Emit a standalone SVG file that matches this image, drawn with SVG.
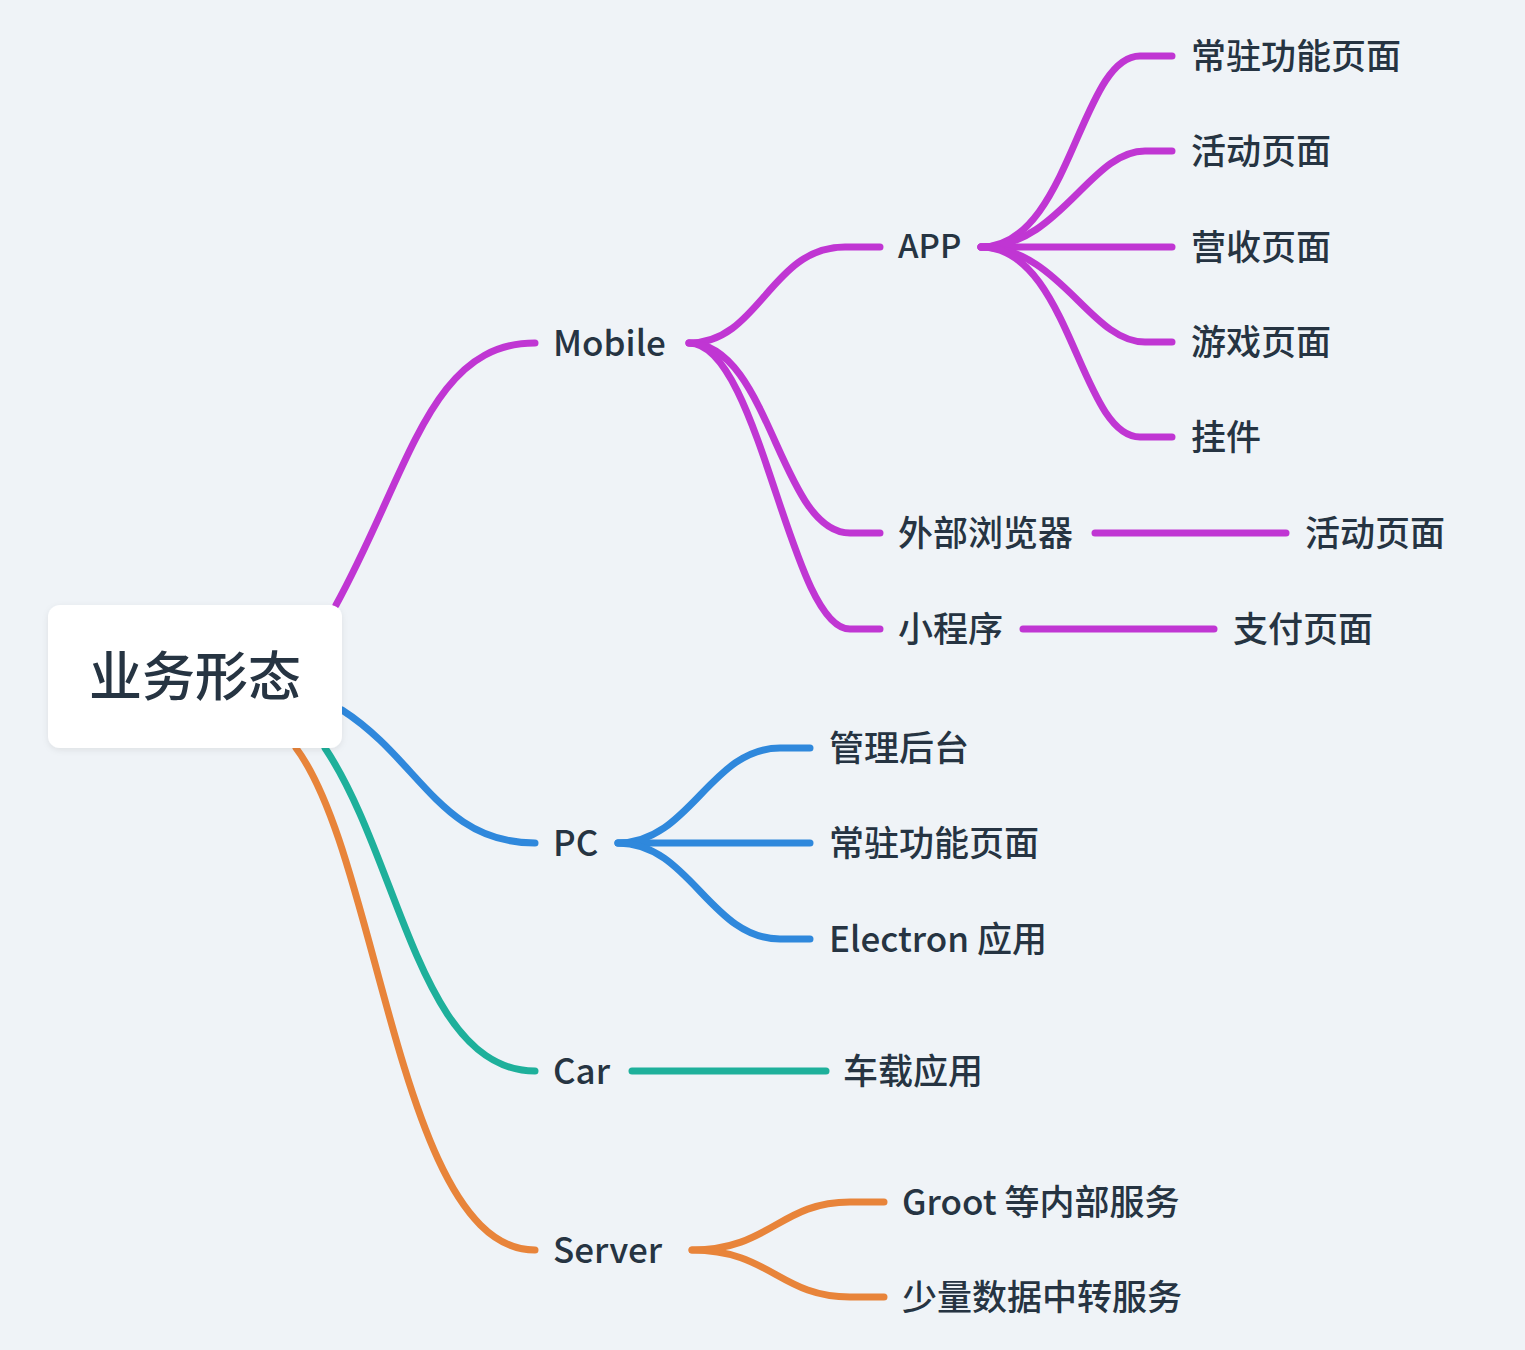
<svg xmlns="http://www.w3.org/2000/svg" width="1525" height="1350" viewBox="0 0 1525 1350">
<defs>
<style>
.t{font-family:"Noto Sans CJK SC","Noto Sans",sans-serif;fill:#263442;font-size:35px;font-weight:500;dominant-baseline:central}
.e{fill:none;stroke-width:7;stroke-linecap:round}
.p{stroke:#c036d3}.b{stroke:#2f88dc}.g{stroke:#1eb09b}.o{stroke:#e8843a}
</style>
<filter id="sh" x="-10%" y="-10%" width="120%" height="130%"><feDropShadow dx="0" dy="2" stdDeviation="3" flood-color="#000" flood-opacity="0.08"/></filter>
</defs>
<rect width="1525" height="1350" fill="#eff3f7"/>
<g id="connectors">
<path class="e p" d="M336,605 C410,470 430,343 535,343"/>
<path class="e b" d="M342,710 C420,760 440,843 535,843"/>
<path class="e g" d="M325,748 C400,860 420,1071 535,1071"/>
<path class="e o" d="M296,748 C380,860 400,1250 535,1250"/>
<path class="e p" d="M689,343 C760,343 770,247 845,247 H880"/>
<path class="e p" d="M689,343 C770,343 780,533 850,533 H880"/>
<path class="e p" d="M689,343 C760,343 790,629 850,629 H880"/>
<path class="e p" d="M981,247 C1070,247 1080,56 1140,56 H1172"/>
<path class="e p" d="M981,247 C1060,247 1090,151 1145,151 H1172"/>
<path class="e p" d="M981,247 H1172"/>
<path class="e p" d="M981,247 C1060,247 1090,342 1145,342 H1172"/>
<path class="e p" d="M981,247 C1070,247 1080,437 1140,437 H1172"/>
<path class="e p" d="M1095,533 H1286"/>
<path class="e p" d="M1023,629 H1214"/>
<path class="e b" d="M618,843 C690,843 710,748 780,748 H810"/>
<path class="e b" d="M618,843 H810"/>
<path class="e b" d="M618,843 C690,843 710,939 780,939 H810"/>
<path class="e g" d="M632,1071 H826"/>
<path class="e o" d="M692,1250 C770,1250 780,1202 850,1202 H884"/>
<path class="e o" d="M692,1250 C770,1250 780,1297 850,1297 H884"/>
</g>
<g id="root">
<rect x="48" y="605" width="294" height="143" rx="12" fill="#fff" filter="url(#sh)"/>
<text class="t" x="195" y="673" text-anchor="middle" style="font-size:53px">业务形态</text>
</g>
<g id="mobile"><text class="t" x="553" y="340">Mobile</text></g>
<g id="pc"><text class="t" x="553" y="840">PC</text></g>
<g id="car"><text class="t" x="553" y="1068">Car</text></g>
<g id="server"><text class="t" x="553" y="1247">Server</text></g>
<g id="app"><text class="t" x="898" y="244" style="font-size:33px">APP</text></g>
<g id="browser"><text class="t" x="898" y="530">外部浏览器</text></g>
<g id="miniprogram"><text class="t" x="898" y="626">小程序</text></g>
<g id="app1"><text class="t" x="1191" y="53">常驻功能页面</text></g>
<g id="app2"><text class="t" x="1191" y="148">活动页面</text></g>
<g id="app3"><text class="t" x="1191" y="244">营收页面</text></g>
<g id="app4"><text class="t" x="1191" y="339">游戏页面</text></g>
<g id="app5"><text class="t" x="1191" y="434">挂件</text></g>
<g id="browser1"><text class="t" x="1305" y="530">活动页面</text></g>
<g id="mini1"><text class="t" x="1233" y="626">支付页面</text></g>
<g id="pc1"><text class="t" x="829" y="745">管理后台</text></g>
<g id="pc2"><text class="t" x="829" y="840">常驻功能页面</text></g>
<g id="pc3"><text class="t" x="829" y="936">Electron 应用</text></g>
<g id="car1"><text class="t" x="843" y="1068">车载应用</text></g>
<g id="server1"><text class="t" x="902" y="1199">Groot 等内部服务</text></g>
<g id="server2"><text class="t" x="902" y="1294">少量数据中转服务</text></g>
</svg>
